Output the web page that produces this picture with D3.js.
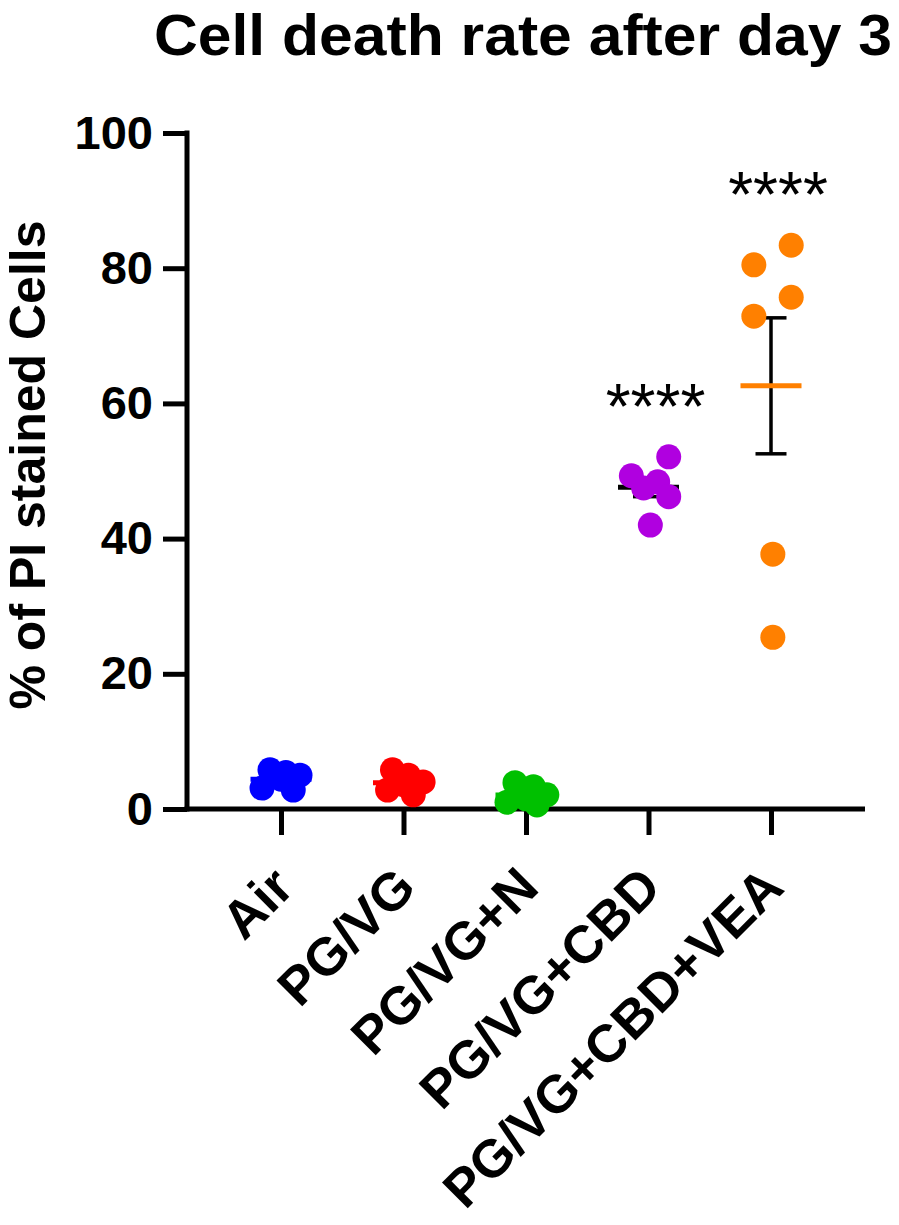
<!DOCTYPE html>
<html>
<head>
<meta charset="utf-8">
<script src="https://cdn.jsdelivr.net/npm/d3@7"></script>
<style>
  html, body { margin: 0; padding: 0; background: #fff; }
  svg { display: block; }
  text { font-family: "Liberation Sans", Arial, Helvetica, sans-serif; }
</style>
</head>
<body>
<svg id="chart" width="899" height="1225"></svg>
<script>
// ---------- data ----------
const categories = ["Air", "PG/VG", "PG/VG+N", "PG/VG+CBD", "PG/VG+CBD+VEA"];
const airValues = [5.8, 5.4, 5.0, 4.4, 3.1, 2.8];
const pgvgValues = [5.8, 5.0, 4.0, 3.6, 2.8, 2.1];
const pgvgNValues = [3.9, 3.3, 2.1, 1.5, 1.0, 0.6];
const cbdValues = [52.1, 49.3, 48.4, 47.5, 46.2, 42.0];
const veaValues = [83.4, 80.5, 75.7, 72.9, 37.7, 25.4];
// horizontal scatter offsets (fraction of category step), as in the figure
const airJitter = [-0.09, 0.04, 0.155, 0.0, -0.155, 0.10];
const pgvgJitter = [-0.09, 0.04, 0.16, 0.0, -0.13, 0.08];
const pgvgNJitter = [-0.09, 0.06, 0.17, 0.0, -0.155, 0.09];
const cbdJitter = [0.165, -0.14, 0.075, -0.04, 0.165, 0.015];
const veaJitter = [0.165, -0.14, 0.165, -0.14, 0.015, 0.015];
const significance = ["", "", "", "****", "****"];
const yTicks = [0, 20, 40, 60, 80, 100];
const titleText = "Cell death rate after day 3";
const yTitle = "% of PI stained Cells";
const pointColors = ["#0000FF", "#FF0000", "#00C000", "#B000E0", "#FF8000"];
const meanColors = ["#0000FF", "#FF0000", "#00C000", "#000000", "#FF8000"];

const groups = [airValues, pgvgValues, pgvgNValues, cbdValues, veaValues];
const jitters = [airJitter, pgvgJitter, pgvgNJitter, cbdJitter, veaJitter];

// ---------- scales ----------
const svg = d3.select("#chart");
const y = d3.scaleLinear().domain([0, 100]).range([809, 133]);
const x = d3.scalePoint().domain(categories).range([281, 771]);
const axisX0 = 187, axisX1 = 865;

// ---------- title ----------
svg.append("text")
  .attr("x", 154).attr("y", 55)
  .attr("text-anchor", "start")
  .attr("font-weight", "bold")
  .attr("font-size", 57)
  .attr("textLength", 738)
  .attr("lengthAdjust", "spacingAndGlyphs")
  .text(titleText);

// ---------- y axis ----------
const yAxis = svg.append("g")
  .attr("transform", `translate(${axisX0},0)`)
  .call(d3.axisLeft(y).tickValues(yTicks).tickSize(24).tickSizeOuter(0).tickPadding(10));
yAxis.select(".domain").attr("stroke", "#000").attr("stroke-width", 5)
  .attr("d", `M0,${y(100) - 2.5}V${y(0) + 2.5}`);
yAxis.selectAll(".tick line").attr("stroke", "#000").attr("stroke-width", 5);
yAxis.selectAll(".tick text")
  .attr("font-size", 47).attr("font-weight", "bold")
  .attr("font-family", "'Liberation Sans', Arial, sans-serif")
  .attr("fill", "#000");

// ---------- x axis ----------
const xAxis = svg.append("g")
  .attr("transform", `translate(0,${y(0)})`)
  .call(d3.axisBottom(x).tickSize(26).tickSizeOuter(0).tickFormat(""));
xAxis.select(".domain").attr("stroke", "#000").attr("stroke-width", 5)
  .attr("d", `M${axisX0 - 2.5},0H${axisX1}`);
xAxis.selectAll(".tick line").attr("stroke", "#000").attr("stroke-width", 5);

// x labels rotated
svg.append("g").selectAll("text")
  .data(categories)
  .join("text")
  .attr("transform", d => `translate(${x(d) + 15},${y(0) + 81}) rotate(-45)`)
  .attr("text-anchor", "end")
  .attr("font-weight", "bold")
  .attr("font-size", 53)
  .text(d => d);

// y title
svg.append("text")
  .attr("transform", `translate(45,465) rotate(-90)`)
  .attr("text-anchor", "middle")
  .attr("font-weight", "bold")
  .attr("font-size", 50)
  .text(yTitle);

// ---------- statistics ----------
const stats = groups.map(vals => {
  const m = d3.mean(vals);
  const sem = d3.deviation(vals) / Math.sqrt(vals.length);
  return { mean: m, sem: sem };
});

const step = x.step();
const plot = svg.append("g");

// error bars
categories.forEach((c, i) => {
  const s = stats[i];
  const cx = x(c);
  const g = plot.append("g").attr("stroke", "#000").attr("stroke-width", 3.5);
  g.append("line").attr("x1", cx).attr("x2", cx)
    .attr("y1", y(s.mean + s.sem)).attr("y2", y(s.mean - s.sem));
  [s.mean + s.sem, s.mean - s.sem].forEach(v => {
    g.append("line").attr("x1", cx - 15.5).attr("x2", cx + 15.5)
      .attr("y1", y(v)).attr("y2", y(v));
  });
});

// mean lines
plot.append("g").selectAll("line")
  .data(categories)
  .join("line")
  .attr("x1", d => x(d) - 30.5).attr("x2", d => x(d) + 30.5)
  .attr("y1", (d, i) => y(stats[i].mean)).attr("y2", (d, i) => y(stats[i].mean))
  .attr("stroke", (d, i) => meanColors[i])
  .attr("stroke-width", 5);

// points
categories.forEach((c, i) => {
  plot.append("g").selectAll("circle")
    .data(groups[i])
    .join("circle")
    .attr("cx", (v, j) => x(c) + jitters[i][j] * step)
    .attr("cy", v => y(v))
    .attr("r", 12.5)
    .attr("fill", pointColors[i]);
});

// significance stars
svg.append("g").selectAll("text")
  .data(categories)
  .join("text")
  .attr("x", d => x(d) + 7)
  .attr("y", (d, i) => y(d3.max(groups[i])) - 28)
  .attr("text-anchor", "middle")
  .attr("font-size", 64)
  .text((d, i) => significance[i]);
</script>
</body>
</html>
